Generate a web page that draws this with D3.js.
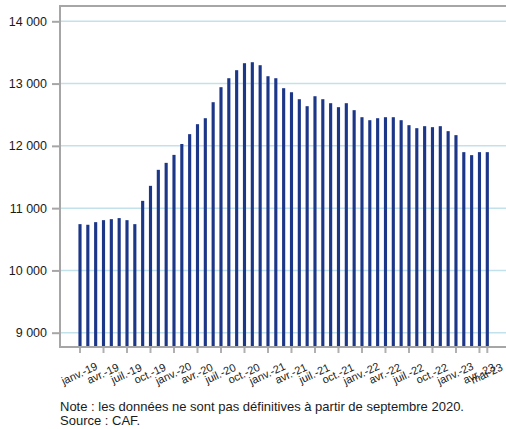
<!DOCTYPE html>
<html><head><meta charset="utf-8">
<script src="https://cdn.jsdelivr.net/npm/d3@7"></script>
<style>body{margin:0;background:#fff}svg{display:block;font-family:"Liberation Sans",Arial,sans-serif}</style>
</head><body><svg id="c" width="506" height="429"></svg>
<script>
const months = ["janv.","févr.","mars","avr.","mai","juin","juil.","août","sept.","oct.","nov.","déc."];
const categories = [];
for (let yy = 19; yy <= 23; yy++) for (let m = 0; m < 12; m++) { if (yy === 23 && m > 4) break; categories.push(months[m] + "-" + yy); }
const values = [10743,10733,10775,10807,10823,10840,10807,10743,11117,11358,11615,11727,
  11855,12030,12188,12348,12444,12701,12942,13086,13215,13327,13343,13295,
  13118,13086,12926,12861,12749,12637,12797,12749,12685,12621,12685,12573,
  12460,12412,12444,12460,12460,12412,12332,12284,12316,12300,12316,12236,
  12172,11899,11851,11899,11899];
const tickLabels = ["janv.-19","avr.-19","juil.-19","oct.-19","janv.-20","avr.-20","juil.-20","oct.-20","janv.-21","avr.-21","juil.-21","oct.-21","janv.-22","avr.-22","juil.-22","oct.-22","janv.-23","avr.-23","mai-23"];
const yTicks = [9000,10000,11000,12000,13000,14000];
const notes = ["Note : les données ne sont pas définitives à partir de septembre 2020.","Source : CAF."];

const svg = d3.select("#c");
const pLeft = 60, pRight = 506, pTop = 6, pBottom = 347;
const step = (487.3 - 80) / (categories.length - 1);
const x = d3.scaleBand().domain(categories).range([80 - step/2, 487.3 + step/2]).paddingInner(0.6).paddingOuter(0.3);
const y = d3.scaleLinear().domain([9000, 14000]).range([332.7, 21.3]);
const fr = d3.formatLocale({decimal: ",", thousands: " ", grouping: [3], currency: ["", " €"]});
const fmt = fr.format(",.0f");

// gridlines
svg.append("g").selectAll("line").data(yTicks).join("line")
  .attr("x1", pLeft).attr("x2", pRight).attr("y1", d => y(d)).attr("y2", d => y(d))
  .attr("stroke", "#c3e1ea").attr("stroke-width", 1.5);

// top border
svg.append("line").attr("x1", pLeft).attr("x2", pRight).attr("y1", pTop).attr("y2", pTop)
  .attr("stroke", "#a6a6a6").attr("stroke-width", 2);

// bars
svg.append("g").selectAll("rect").data(values).join("rect")
  .attr("x", (d, i) => x(categories[i]))
  .attr("width", x.bandwidth())
  .attr("y", d => y(d))
  .attr("height", d => pBottom - y(d))
  .attr("fill", "#1c3688");

// y axis
const ya = svg.append("g").attr("transform", `translate(${pLeft},0)`)
  .call(d3.axisLeft(y).tickValues(yTicks).tickFormat(fmt).tickSize(8).tickPadding(5));
ya.select(".domain").remove();
ya.selectAll(".tick line").attr("stroke", "#a6a6a6").attr("stroke-width", 2);
ya.selectAll(".tick text").attr("fill", "#1a1a1a").style("font-size", "12.5px").style("font-family", "Liberation Sans, Arial, sans-serif");
svg.append("line").attr("x1", pLeft).attr("x2", pLeft).attr("y1", pTop - 1).attr("y2", pBottom + 1)
  .attr("stroke", "#a6a6a6").attr("stroke-width", 2);

// x axis
const xa = svg.append("g").attr("transform", `translate(0,${pBottom})`)
  .call(d3.axisBottom(x).tickValues(tickLabels).tickSize(6).tickSizeOuter(0));
xa.select(".domain").remove();
xa.selectAll(".tick line").attr("stroke", "#b0b0b0").attr("stroke-width", 2);
xa.selectAll(".tick text")
  .attr("fill", "#1a1a1a").style("font-size", "11px").style("font-family", "Liberation Sans, Arial, sans-serif")
  .attr("text-anchor", "middle").attr("dy", null).attr("y", 0)
  .attr("transform", "translate(1,30) rotate(-25)");
svg.append("line").attr("x1", pLeft - 1).attr("x2", pRight).attr("y1", pBottom).attr("y2", pBottom)
  .attr("stroke", "#a6a6a6").attr("stroke-width", 2);

// notes
svg.append("g").selectAll("text").data(notes).join("text")
  .attr("x", 60).attr("y", (d, i) => 411 + i * 14)
  .attr("fill", "#1a1a1a").style("font-size", "13px").text(d => d);
</script></body></html>
